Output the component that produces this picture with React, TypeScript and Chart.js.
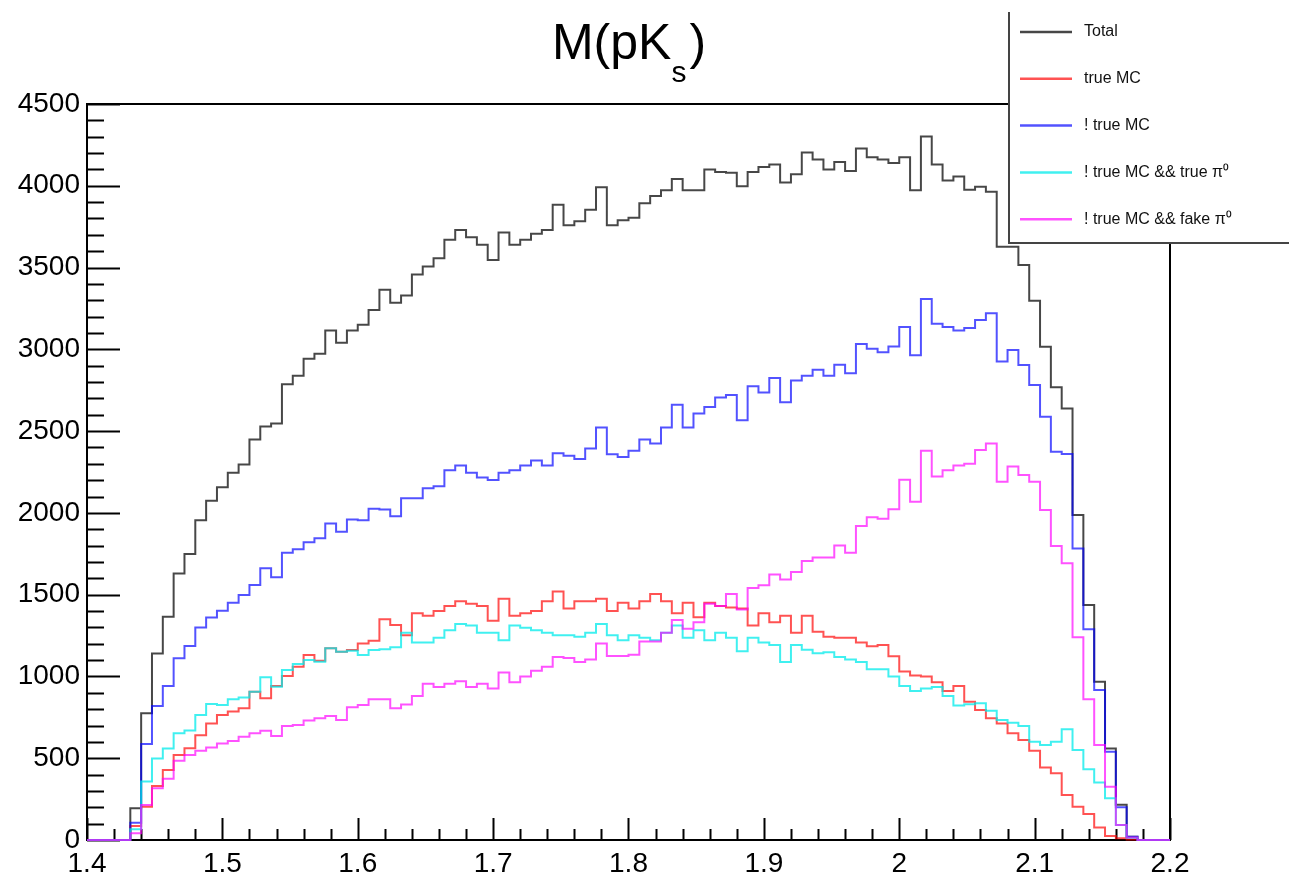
import React, { useEffect, useRef } from "react";
import { Chart, registerables } from "chart.js";

Chart.register(...registerables);

// ---- axis definition ----
const X_MIN = 1.4;
const X_MAX = 2.2;
const N_BINS = 100;
const xTickLabels = ["1.4", "1.5", "1.6", "1.7", "1.8", "1.9", "2", "2.1", "2.2"];
const yTickLabels = ["0", "500", "1000", "1500", "2000", "2500", "3000", "3500", "4000", "4500"];
const Y_MAX = 4500;

// ---- series (bin contents, 100 bins of 0.008 from 1.4 to 2.2) ----
const total = [
  0, 0, 0, 0, 194, 775, 1141, 1365, 1630, 1749,
  1955, 2074, 2157, 2246, 2296, 2448, 2528, 2546, 2786, 2839,
  2943, 2973, 3115, 3041, 3115, 3151, 3240, 3365, 3285, 3329,
  3457, 3507, 3557, 3670, 3730, 3685, 3640, 3546, 3715, 3640,
  3670, 3706, 3730, 3884, 3759, 3783, 3854, 3991, 3759, 3789,
  3804, 3893, 3937, 3973, 4041, 3973, 3973, 4100, 4085, 4080,
  3997, 4085, 4115, 4130, 4020, 4071, 4204, 4160, 4100, 4145,
  4091, 4228, 4175, 4160, 4139, 4175, 3973, 4302, 4130, 4032,
  4056, 3975, 3994, 3964, 3627, 3627, 3516, 3297, 3016, 2768,
  2639, 1987, 1437, 968, 560, 215, 20, 0, 0, 0,
];

const trueMC = [
  0, 0, 0, 0, 85, 204, 330, 428, 520, 561,
  640, 713, 764, 785, 805, 907, 866, 942, 1003, 1060,
  1131, 1096, 1172, 1151, 1162, 1202, 1219, 1349, 1315, 1252,
  1386, 1371, 1400, 1430, 1460, 1445, 1430, 1341, 1475, 1371,
  1386, 1400, 1460, 1519, 1415, 1460, 1460, 1475, 1400, 1451,
  1415, 1460, 1504, 1460, 1386, 1451, 1362, 1451, 1430, 1421,
  1415, 1311, 1386, 1332, 1371, 1267, 1371, 1273, 1243, 1237,
  1237, 1208, 1184, 1193, 1124, 1030, 1006, 1000, 964, 911,
  941, 845, 795, 744, 713, 652, 611, 546, 444, 408,
  275, 204, 159, 77, 24, 10, 3, 0, 0, 0,
];

const notTrueMC = [
  0, 0, 0, 0, 106, 587, 819, 942, 1111, 1186,
  1300, 1361, 1402, 1451, 1498, 1559, 1661, 1606, 1756, 1777,
  1820, 1845, 1935, 1885, 1960, 1955, 2025, 2020, 1979, 2089,
  2089, 2151, 2163, 2261, 2290, 2246, 2216, 2201, 2246, 2261,
  2290, 2320, 2290, 2365, 2350, 2329, 2394, 2522, 2359, 2341,
  2380, 2448, 2424, 2522, 2661, 2522, 2608, 2647, 2706, 2721,
  2566, 2774, 2736, 2825, 2676, 2810, 2839, 2875, 2839, 2905,
  2854, 3032, 3003, 2982, 3017, 3136, 2964, 3308, 3157, 3136,
  3115, 3130, 3179, 3220, 2925, 2996, 2904, 2782, 2588, 2374,
  2360, 1783, 1288, 917, 540, 200, 20, 0, 0, 0,
];

const notTrueMCTruePi0 = [
  0, 0, 0, 0, 65, 357, 499, 560, 652, 669,
  764, 831, 826, 860, 872, 907, 995, 937, 1039, 1076,
  1100, 1090, 1172, 1151, 1157, 1131, 1162, 1166, 1178, 1267,
  1208, 1208, 1237, 1282, 1320, 1311, 1267, 1267, 1222, 1311,
  1297, 1282, 1267, 1252, 1252, 1243, 1267, 1320, 1252, 1222,
  1252, 1237, 1222, 1267, 1311, 1237, 1282, 1222, 1267, 1237,
  1154, 1237, 1208, 1193, 1089, 1193, 1163, 1142, 1148, 1119,
  1104, 1089, 1044, 1044, 1000, 941, 911, 926, 935, 881,
  822, 830, 836, 791, 734, 717, 697, 601, 581, 601,
  677, 550, 432, 351, 255, 92, 14, 0, 0, 0,
];

const notTrueMCFakePi0 = [
  0, 0, 0, 0, 41, 214, 317, 375, 485, 520,
  545, 565, 590, 605, 632, 652, 668, 636, 697, 703,
  730, 744, 758, 734, 811, 825, 860, 860, 805, 828,
  881, 955, 935, 955, 970, 935, 955, 926, 1024, 964,
  1000, 1035, 1059, 1119, 1113, 1089, 1104, 1202, 1125, 1125,
  1133, 1213, 1213, 1267, 1345, 1291, 1332, 1445, 1430, 1504,
  1409, 1540, 1558, 1623, 1593, 1638, 1706, 1727, 1727, 1801,
  1756, 1920, 1973, 1964, 2023, 2202, 2068, 2380, 2222, 2261,
  2290, 2300, 2384, 2425, 2191, 2283, 2232, 2191, 2017, 1797,
  1692, 1239, 860, 581, 326, 92, 15, 0, 0, 0,
];

const seriesLabels = [
  "Total",
  "true MC",
  "! true MC",
  "! true MC && true \u03c0\u2070",
  "! true MC && fake \u03c0\u2070",
];
const seriesValues = [total, trueMC, notTrueMC, notTrueMCTruePi0, notTrueMCFakePi0];
const seriesColors = [
  "rgba(0,0,0,0.72)",
  "rgba(255,0,0,0.68)",
  "rgba(0,0,255,0.68)",
  "rgba(0,235,235,0.75)",
  "rgba(255,0,255,0.68)",
];

const FONT = "'Liberation Sans', Arial, Helvetica, sans-serif";

function histPoints(values: number[]) {
  const w = (X_MAX - X_MIN) / N_BINS;
  const pts = values.map((v, i) => ({ x: X_MIN + i * w, y: v }));
  pts.push({ x: X_MAX, y: values[values.length - 1] });
  return pts;
}

const framePlugin = {
  id: "rootFrame",
  beforeDatasetsDraw(chart: any) {
    const { ctx, chartArea, scales } = chart;
    const { left, right, top, bottom } = chartArea;
    const xs = scales.x;
    const ys = scales.y;
    ctx.save();
    ctx.strokeStyle = "#000";
    ctx.lineWidth = 2;
    ctx.strokeRect(left, top, right - left, bottom - top);
    ctx.lineWidth = 2;
    ctx.beginPath();
    for (let v = 0; v <= Y_MAX; v += 100) {
      const py = Math.round(ys.getPixelForValue(v)) + 0.5;
      const len = v % 500 === 0 ? 33 : 17;
      ctx.moveTo(left, py);
      ctx.lineTo(left + len, py);
    }
    const nMinor = Math.round((X_MAX - X_MIN) / 0.02);
    for (let i = 0; i <= nMinor; i++) {
      const px = Math.round(xs.getPixelForValue(X_MIN + i * 0.02)) + 0.5;
      const len = i % 5 === 0 ? 22 : 11;
      ctx.moveTo(px, bottom);
      ctx.lineTo(px, bottom - len);
    }
    ctx.stroke();
    ctx.restore();
  },
  afterDraw(chart: any) {
    const { ctx } = chart;
    ctx.save();
    // title M(pK_s)
    ctx.fillStyle = "#000";
    ctx.textBaseline = "alphabetic";
    const big = `50px ${FONT}`;
    const small = `30px ${FONT}`;
    ctx.font = big;
    const w1 = ctx.measureText("M(pK").width;
    const w3 = ctx.measureText(")").width;
    ctx.font = small;
    const w2 = ctx.measureText("s").width;
    const totalW = w1 + w2 + w3 + 3;
    const x0 = 629 - totalW / 2;
    ctx.font = big;
    ctx.fillText("M(pK", x0, 59);
    ctx.font = small;
    ctx.fillText("s", x0 + w1, 82);
    ctx.font = big;
    ctx.fillText(")", x0 + w1 + w2 + 3, 59);

    // legend box
    const bx = 1009;
    const by = 12;
    const bw = 300;
    const bh = 231;
    ctx.fillStyle = "#fff";
    ctx.fillRect(bx, by, bw, bh);
    ctx.strokeStyle = "#444";
    ctx.lineWidth = 2;
    ctx.beginPath();
    ctx.moveTo(bx, by);
    ctx.lineTo(bx, by + bh);
    ctx.lineTo(bx + bw, by + bh);
    ctx.stroke();
    ctx.font = `16px ${FONT}`;
    ctx.textBaseline = "middle";
    seriesLabels.forEach((lab, i) => {
      const yy = 32 + i * 46.8;
      ctx.strokeStyle = seriesColors[i];
      ctx.lineWidth = 2.5;
      ctx.beginPath();
      ctx.moveTo(1020, yy);
      ctx.lineTo(1072, yy);
      ctx.stroke();
      ctx.fillStyle = "#111";
      ctx.fillText(lab, 1084, yy);
    });
    ctx.restore();
  },
};

export default function App() {
  const ref = useRef<HTMLCanvasElement | null>(null);

  useEffect(() => {
    if (!ref.current) return;
    const order = [5, 4, 3, 2, 1];
    const chart = new Chart(ref.current, {
      type: "line",
      data: {
        datasets: seriesValues.map((vals, i) => ({
          label: seriesLabels[i],
          data: histPoints(vals),
          borderColor: seriesColors[i],
          backgroundColor: seriesColors[i],
          borderWidth: 2,
          pointRadius: 0,
          pointHoverRadius: 0,
          stepped: "before" as const,
          fill: false,
          tension: 0,
          order: order[i],
          clip: 4,
        })),
      },
      options: {
        animation: false,
        responsive: false,
        maintainAspectRatio: false,
        events: [],
        layout: { padding: { left: 0, right: 119, top: 104, bottom: 0 } },
        plugins: {
          legend: { display: false },
          title: { display: false },
          tooltip: { enabled: false },
        },
        scales: {
          x: {
            type: "linear",
            min: X_MIN,
            max: X_MAX,
            grid: { display: false, drawTicks: false },
            border: { display: false },
            ticks: {
              stepSize: 0.1,
              padding: 7,
              maxRotation: 0,
              autoSkip: false,
              color: "#000",
              font: { family: FONT, size: 28 },
              callback: (_v: any, i: number) => xTickLabels[i],
            },
            afterFit: (s: any) => {
              s.height = 36;
            },
          },
          y: {
            type: "linear",
            min: 0,
            max: Y_MAX,
            grid: { display: false, drawTicks: false },
            border: { display: false },
            ticks: {
              stepSize: 500,
              padding: 7,
              color: "#000",
              font: { family: FONT, size: 28 },
              callback: (_v: any, i: number) => yTickLabels[i],
            },
            afterFit: (s: any) => {
              s.width = 87;
            },
          },
        },
      },
      plugins: [framePlugin],
    });
    return () => chart.destroy();
  }, []);

  return (
    <div style={{ position: "fixed", left: 0, top: 0, width: 1289, height: 876, background: "#fff" }}>
      <canvas ref={ref} width={1289} height={876} style={{ width: 1289, height: 876, display: "block" }} />
    </div>
  );
}
